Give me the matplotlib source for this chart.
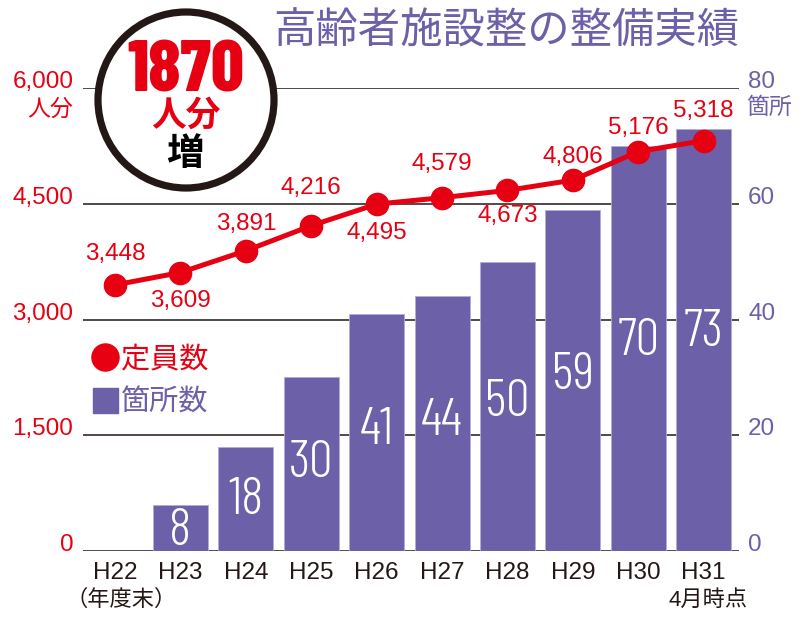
import matplotlib
matplotlib.use("Agg")
import matplotlib.pyplot as plt
from matplotlib.patches import Ellipse
from matplotlib.lines import Line2D

plt.rcParams['font.family'] = ['Liberation Sans', 'Noto Sans CJK JP', 'DejaVu Sans']

# データ
years = ["H22", "H23", "H24", "H25", "H26", "H27", "H28", "H29", "H30", "H31"]
capacity = [3448, 3609, 3891, 4216, 4495, 4579, 4673, 4806, 5176, 5318]   # 定員数（人分）
facilities = [0, 8, 18, 30, 41, 44, 50, 59, 70, 73]                       # 箇所数
left_ticks = [0, 1500, 3000, 4500, 6000]
right_ticks = [0, 20, 40, 60, 80]
# ラベルの上下（ピクセル）
label_dy = [31, -28, 27, 38, -29, 34, -26, 23, 24, 30]

RED = "#e60012"
PURPLE = "#6c60a8"
DARK = "#231815"
COND = ["Barlow Condensed", "Roboto Condensed", "DejaVu Sans"]

fig = plt.figure(figsize=(8.04, 6.22), dpi=100)
W, H = 804, 622
ax = fig.add_axes([83 / W, 1 - 551 / H, (739 - 83) / W, (551 - 88) / H])
axl = ax.twinx()
x = list(range(len(years)))

# 箇所数（棒）
ax.bar(x, facilities, width=0.84, color=PURPLE, edgecolor="#b4acd8", linewidth=0.6, zorder=2)
ax.set_ylim(0, 80)
ax.set_xlim(-0.49, 9.54)
ax.set_yticks(right_ticks)
ax.yaxis.tick_right()
ax.set_axisbelow(True)
ax.grid(axis="y", color=DARK, linewidth=1.1)
ax.tick_params(axis="y", length=0, pad=6.5, labelsize=17.5, labelcolor=PURPLE)
for t in ax.get_yticklabels():
    t.set_va("baseline")
ax.set_xticks(x)
ax.set_xticklabels(years)
ax.tick_params(axis="x", length=0, pad=8, labelsize=17.5, labelcolor=DARK)
for s in ax.spines.values():
    s.set_visible(False)

for i, v in enumerate(facilities):
    if v > 0:
        ax.text(i, v * 0.53, str(v), ha="center", va="center_baseline", color="white",
                fontsize=38, family=COND, fontweight=300, zorder=3)

# 定員数（折れ線）
axl.plot(x, capacity, color=RED, linewidth=3.6, marker="o", markersize=16, zorder=4, clip_on=False)
axl.set_ylim(0, 6000)
axl.set_yticks(left_ticks)
axl.set_yticklabels([f"{v:,}" for v in left_ticks])
axl.yaxis.tick_left()
axl.tick_params(axis="y", length=0, pad=7, labelsize=17.5, labelcolor=RED)
for t in axl.get_yticklabels():
    t.set_va("baseline")
for s in axl.spines.values():
    s.set_visible(False)

for i, v in enumerate(capacity):
    axl.annotate(f"{v:,}", (i, v), xytext=(0, label_dy[i]), textcoords="offset pixels",
                 ha="center", va="center", color=RED, fontsize=17.5, zorder=5)

# 単位・注記
fig.text(73 / W, 1 - 109 / H, "人分", ha="right", va="center", color=RED, fontsize=16.5)
fig.text(746 / W, 1 - 107 / H, "箇所", ha="left", va="center", color=PURPLE, fontsize=16.5)
fig.text(66 / W, 1 - 600 / H, "（年度末）", ha="left", va="center", color=DARK, fontsize=16)
fig.text(748 / W, 1 - 600 / H, "4月時点", ha="right", va="center", color=DARK, fontsize=16)

# 凡例
handles = [Line2D([], [], linestyle="none", marker="o", markersize=19.5, color=RED),
           Line2D([], [], linestyle="none", marker="s", markersize=18, color=PURPLE)]
leg = fig.legend(handles, ["定員数", "箇所数"], loc="upper left",
                 bbox_to_anchor=(90 / W, 1 - 345 / H), frameon=False, fontsize=21,
                 handlelength=1.0, handletextpad=0.05, borderpad=0, borderaxespad=0,
                 labelspacing=0.52)
for t, c in zip(leg.get_texts(), [RED, PURPLE]):
    t.set_color(c)

# タイトル
fig.text(506 / W, 1 - 33 / H, "高齢者施設整の整備実績", ha="center", va="center",
         color=PURPLE, fontsize=30.5)

# 丸囲み
fig.add_artist(Ellipse((186 / W, 1 - 100 / H), 176 / W, 176 / H, transform=fig.transFigure,
                       facecolor="white", edgecolor=DARK, linewidth=5.2, zorder=10))
fig.text(186 / W, 1 - 66 / H, "1870", ha="center", va="center_baseline", color=RED, fontsize=52,
         fontweight=800, family=COND, zorder=11)
fig.text(186 / W, 1 - 115 / H, "人分", ha="center", va="center", color=RED, fontsize=25,
         fontweight="bold", family=["Noto Sans CJK JP"], zorder=11)
fig.text(185 / W, 1 - 154 / H, "増", ha="center", va="center", color="black", fontsize=27,
         fontweight="bold", family=["Noto Sans CJK JP"], zorder=11)

fig.savefig("out.png", dpi=100)
